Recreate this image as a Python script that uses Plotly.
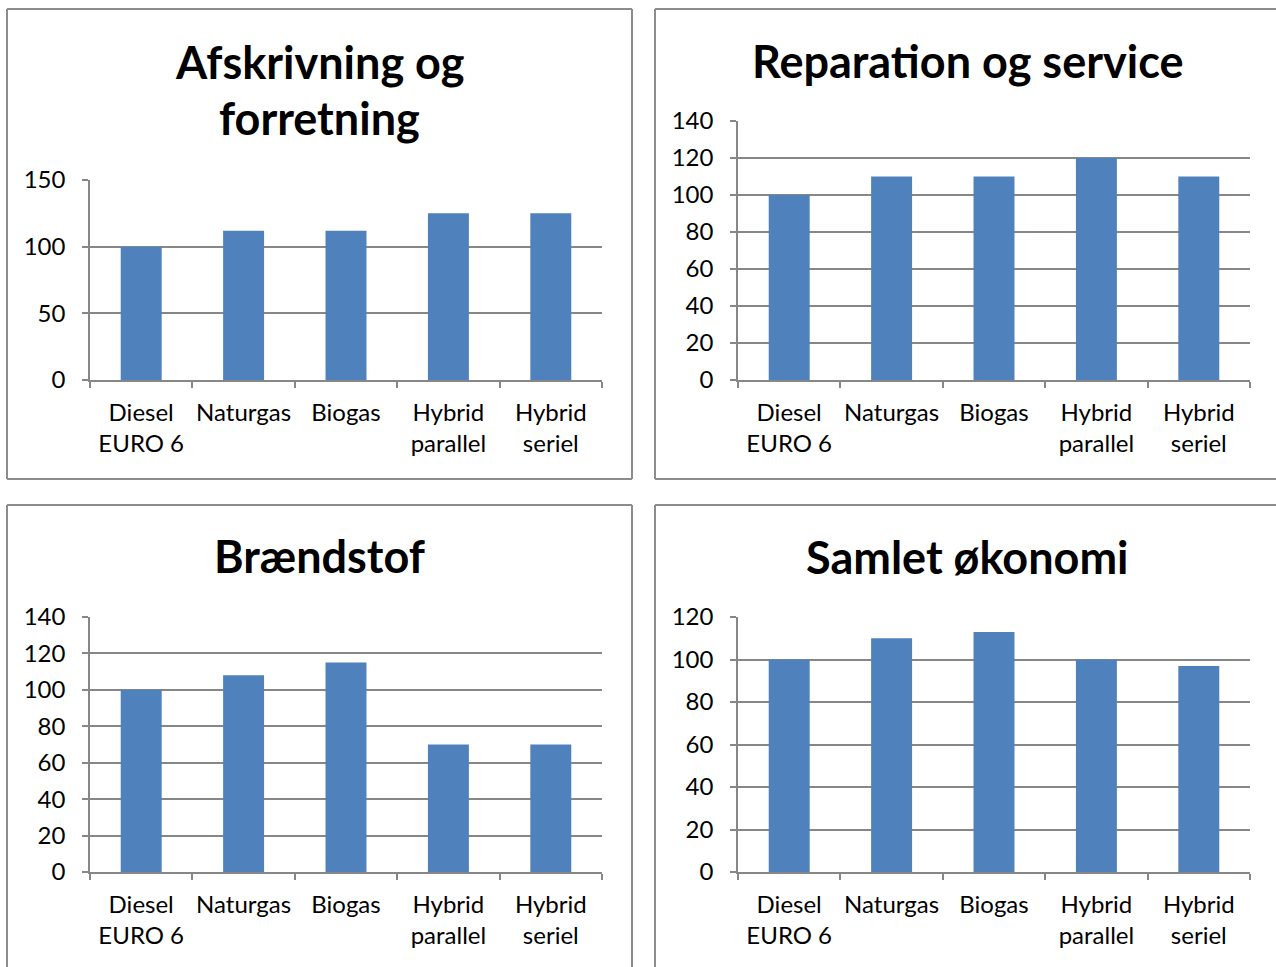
import plotly.graph_objects as go

W, H = 1276, 967

categories = ["Diesel<br>EURO 6", "Naturgas", "Biogas", "Hybrid<br>parallel", "Hybrid<br>seriel"]

afskrivning = [100, 112, 112, 125, 125]
reparation = [100, 110, 110, 120, 110]
braendstof = [100, 108, 115, 70, 70]
samlet = [100, 110, 113, 100, 97]

titles = [["Afskrivning og", "forretning"], ["Reparation og service"], ["Brændstof"], ["Samlet økonomi"]]
series = [afskrivning, reparation, braendstof, samlet]
y_ranges = [[0, 150], [0, 140], [0, 140], [0, 120]]
y_dticks = [50, 20, 20, 20]

# layout geometry in pixels
plot_boxes = [  # x0, x1, ytop, ybottom
    (90, 602, 180, 380),
    (738, 1250, 121, 380),
    (90, 602, 617, 872),
    (738, 1250, 617, 872),
]
# panel border segments: (x0, y0, x1, y1) in pixels, only visible edges
border_segments = [
    (7, 9, 632, 9), (7, 9, 7, 479), (632, 9, 632, 479), (7, 479, 632, 479),
    (655, 9, W, 9), (655, 9, 655, 479), (655, 479, W, 479),
    (7, 505, 632, 505), (7, 505, 7, H), (632, 505, 632, H),
    (655, 505, W, 505), (655, 505, 655, H),
]
title_pos = [  # center x, list of line centre y
    (319.5, [62, 118]),
    (967.5, [61]),
    (319.5, [556]),
    (967.5, [557]),
]

FONT = "Lato"
BAR = "#4F81BD"
GRID = "#878787"

fig = go.Figure()
layout = dict(
    width=W, height=H, margin=dict(l=0, r=0, t=0, b=0, pad=0, autoexpand=False),
    paper_bgcolor="white", plot_bgcolor="white", showlegend=False,
    bargap=0.6, font=dict(family=FONT, size=24, color="black"),
    shapes=[], annotations=[],
)

def px(x):
    return x / W

def py(y):
    return 1 - y / H

for i in range(4):
    n = "" if i == 0 else str(i + 1)
    fig.add_trace(go.Bar(x=categories, y=series[i], marker=dict(color=BAR, line=dict(width=0)),
                         xaxis="x" + n, yaxis="y" + n, hoverinfo="skip"))
    x0, x1, yt, yb = plot_boxes[i]
    layout["xaxis" + n] = dict(
        domain=[px(x0), px(x1)], anchor="y" + n, showline=True, linecolor=GRID, linewidth=1.5,
        ticks="outside", tickson="boundaries", ticklen=6, tickcolor=GRID, tickwidth=1.5,
        showgrid=False, tickfont=dict(family=FONT, size=24), fixedrange=True, tickangle=0,
        ticklabelstandoff=10, automargin=False,
    )
    layout["yaxis" + n] = dict(
        domain=[py(yb), py(yt)], anchor="x" + n, range=y_ranges[i], dtick=y_dticks[i],
        showline=True, linecolor=GRID, linewidth=1.5, ticks="outside", ticklen=6,
        tickcolor=GRID, tickwidth=1.5, showgrid=True, gridcolor=GRID, gridwidth=1.5,
        zeroline=False, tickfont=dict(family=FONT, size=24), fixedrange=True,
        ticklabelstandoff=12, automargin=False,
    )
    cx, ys = title_pos[i]
    for line, yc in zip(titles[i], ys):
        layout["annotations"].append(dict(text="<b>" + line + "</b>", x=px(cx), y=py(yc),
                                          xref="paper", yref="paper", xanchor="center", yanchor="middle",
                                          showarrow=False, font=dict(family=FONT, size=45, color="black")))

for (sx0, sy0, sx1, sy1) in border_segments:
    layout["shapes"].append(dict(type="line", xref="paper", yref="paper",
                                 x0=px(sx0), x1=px(sx1), y0=py(sy0), y1=py(sy1),
                                 line=dict(color="#8c8c8c", width=2), layer="below"))

fig.update_layout(**layout)
fig.write_html("out.html", config={"displayModeBar": False},
               post_script="document.body.style.margin='0';document.body.style.overflow='hidden';")
